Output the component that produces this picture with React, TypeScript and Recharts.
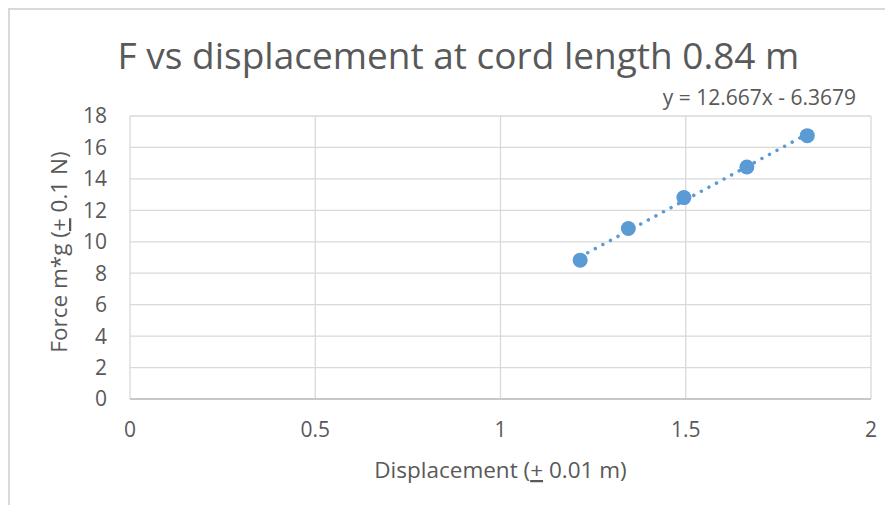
import { ScatterChart, Scatter, XAxis, YAxis, CartesianGrid } from 'recharts'

const FONT = "'Open Sans', sans-serif"
const TEXT_COLOR = '#595959'
const BLUE = '#5b9bd5'

const chartTitle = 'F vs displacement at cord length 0.84 m'
const trendLabel = 'y = 12.667x - 6.3679'

// displacement (m) and force m*g (N)
const displacement = [1.215, 1.345, 1.495, 1.665, 1.828]
const force = [8.83, 10.84, 12.81, 14.76, 16.75]

const xTicks = [0, 0.5, 1, 1.5, 2]
const yTicks = [0, 2, 4, 6, 8, 10, 12, 14, 16, 18]

const points = displacement.map((x, i) => ({ x, y: force[i] }))

function XTitle({ viewBox }: any) {
  const { x, y, width } = viewBox
  return (
    <text
      x={x + width / 2}
      y={y + 79}
      textAnchor="middle"
      fill={TEXT_COLOR}
      fontSize={22.5}
      fontFamily={FONT}
    >
      Displacement (<tspan textDecoration="underline">+</tspan> 0.01 m)
    </text>
  )
}

function YTitle() {
  const cx = 57
  const cy = 242
  return (
    <text
      x={cx}
      y={cy}
      transform={`rotate(-90, ${cx}, ${cy})`}
      textAnchor="middle"
      fill={TEXT_COLOR}
      fontSize={22.5}
      fontFamily={FONT}
    >
      Force m*g (<tspan textDecoration="underline">+</tspan> 0.1 N)
    </text>
  )
}

function Marker(props: any) {
  const { cx, cy } = props
  return <circle cx={cx} cy={cy} r={7.5} fill={BLUE} />
}

export default function App() {
  return (
    <div
      style={{
        position: 'relative',
        width: 875,
        height: 495,
        borderLeft: '2px solid #d9d9d9',
        borderTop: '2px solid #d9d9d9',
        fontFamily: FONT,
        color: TEXT_COLOR,
      }}
    >
      <div
        style={{
          position: 'absolute',
          left: 0,
          top: 26,
          width: 897,
          textAlign: 'center',
          fontSize: 37,
          lineHeight: '37px',
          whiteSpace: 'nowrap',
        }}
      >
        {chartTitle}
      </div>
      <div
        style={{
          position: 'absolute',
          right: 29,
          top: 77,
          fontSize: 21,
          lineHeight: '21px',
          whiteSpace: 'nowrap',
        }}
      >
        {trendLabel}
      </div>

      <ScatterChart width={875} height={495} margin={{ top: 106, right: 14, bottom: 0, left: 0 }}>
        <CartesianGrid stroke="#d9d9d9" strokeWidth={1.3} />
        <XAxis
          type="number"
          dataKey="x"
          domain={[0, 2]}
          ticks={xTicks}
          height={106}
          tick={{ fill: TEXT_COLOR, fontSize: 21, fontFamily: FONT }}
          tickLine={false}
          tickSize={0}
          tickMargin={23}
          axisLine={{ stroke: '#bfbfbf', strokeWidth: 1.3 }}
          label={<XTitle />}
        />
        <YAxis
          type="number"
          dataKey="y"
          domain={[0, 18]}
          ticks={yTicks}
          width={120}
          tick={{ fill: TEXT_COLOR, fontSize: 21, fontFamily: FONT }}
          tickLine={false}
          tickSize={0}
          tickMargin={23}
          axisLine={false}
          label={<YTitle />}
        />
        <Scatter
          data={points}
          fill={BLUE}
          shape={<Marker />}
          lineType="fitting"
          line={{
            stroke: BLUE,
            strokeWidth: 3.5,
            strokeDasharray: '0.01 8.6',
            strokeLinecap: 'round',
          }}
          isAnimationActive={false}
        />
      </ScatterChart>
    </div>
  )
}
